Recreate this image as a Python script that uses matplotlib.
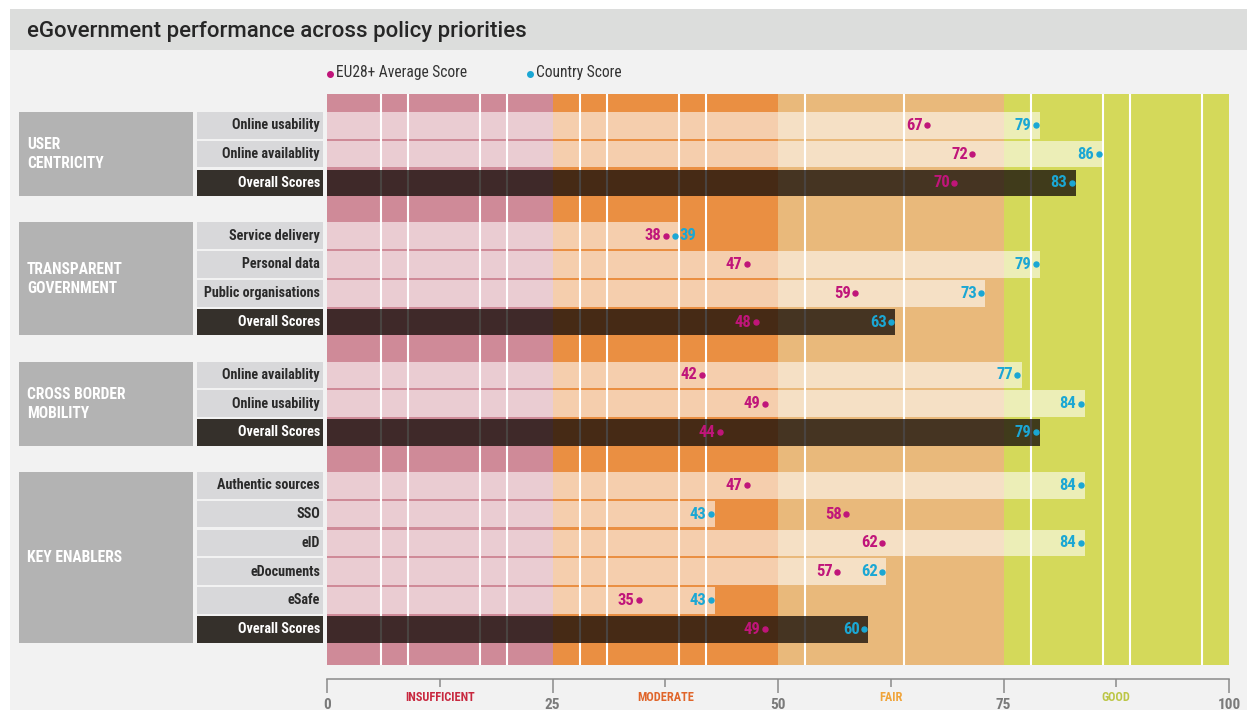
import matplotlib
matplotlib.use('Agg')
import matplotlib.pyplot as plt
from matplotlib import font_manager
from matplotlib.patches import Rectangle

# ---- data ----
groups = ['USER\nCENTRICITY', 'TRANSPARENT\nGOVERNMENT', 'CROSS BORDER\nMOBILITY', 'KEY ENABLERS']
group_items = [
    ['Online usability', 'Online availablity', 'Overall Scores'],
    ['Service delivery', 'Personal data', 'Public organisations', 'Overall Scores'],
    ['Online availablity', 'Online usability', 'Overall Scores'],
    ['Authentic sources', 'SSO', 'eID', 'eDocuments', 'eSafe', 'Overall Scores'],
]
eu_scores = [[67, 72, 70], [38, 47, 59, 48], [42, 49, 44], [47, 58, 62, 57, 35, 49]]
country_scores = [[79, 86, 83], [39, 79, 73, 63], [77, 84, 79], [84, 43, 84, 62, 43, 60]]
zones = ['INSUFFICIENT', 'MODERATE', 'FAIR', 'GOOD']
zone_edges = [0, 25, 50, 75, 100]
grid_marks = [6, 9, 17, 20, 28, 31, 39, 42, 53, 64, 78, 86, 89, 97]

# ---- styles ----
zone_colors = ['#cf8a98', '#ea8f42', '#e9b97b', '#d4d95a']
zone_text_colors = ['#c8283f', '#e0652a', '#f0a43a', '#bcc645']
EU_COL = '#c0157a'
CTRY_COL = '#1ba7d4'

# pick a condensed font if one is installed
names = {f.name for f in font_manager.fontManager.ttflist}
FONT = 'DejaVu Sans'
for cand in ['Roboto Condensed', 'Liberation Sans Narrow', 'Open Sans Condensed', 'Noto Sans Condensed']:
    if cand in names:
        FONT = cand
        break
WIDE = 'Roboto' if 'Roboto' in names else 'DejaVu Sans'
plt.rcParams['font.family'] = [FONT, 'DejaVu Sans']
plt.rcParams['font.stretch'] = 'condensed'

W, H = 1247, 710
fig = plt.figure(figsize=(W / 100, H / 100), dpi=100, facecolor='white')

# background axes in pixel units
bg = fig.add_axes([0, 0, 1, 1])
bg.set_xlim(0, W)
bg.set_ylim(H, 0)
bg.axis('off')
bg.add_patch(Rectangle((10, 50), W - 10, H - 50, color='#f2f2f2', lw=0))
bg.add_patch(Rectangle((10, 9), W - 10, 41, color='#dcdddc', lw=0))
bg.text(27, 31, 'eGovernment performance across policy priorities', fontsize=16,
        family=[WIDE, 'DejaVu Sans'], fontstretch='normal', fontweight='medium',
        color='#262626', va='center', ha='left')
bg.plot([330], [74], 'o', color=EU_COL, ms=4)
bg.text(336, 73, 'EU28+ Average Score', fontsize=11.2, color='#333333', va='center')
bg.plot([530], [74], 'o', color=CTRY_COL, ms=4)
bg.text(536, 73, 'Country Score', fontsize=11.2, color='#333333', va='center')

# row layout (pixels from top)
top, bottom = 94, 665
pitch, group_gap, band_h, first_top = 28.8, 24, 26.5, 112
row_tops = []
y = first_top
for items in group_items:
    tops = []
    for _ in items:
        tops.append(y)
        y += pitch
    row_tops.append(tops)
    y += group_gap

x0, x1 = 327, 1229
ax = fig.add_axes([x0 / W, 1 - bottom / H, (x1 - x0) / W, (bottom - top) / H])
ax.set_xlim(0, 100)
ax.set_ylim(bottom, top)
ax.patch.set_alpha(0)

for i in range(4):
    ax.axvspan(zone_edges[i], zone_edges[i + 1], color=zone_colors[i], lw=0, zorder=0)
ax.vlines(grid_marks, top, bottom, color='white', lw=1.5, zorder=1)

for g, items in enumerate(group_items):
    for k, name in enumerate(items):
        yc = row_tops[g][k] + band_h / 2
        eu = eu_scores[g][k]
        ct = country_scores[g][k]
        overall = name == 'Overall Scores'
        if overall:
            ax.barh(yc, ct, height=band_h, color='#140c08', alpha=0.77, lw=0, zorder=2)
        else:
            ax.barh(yc, ct, height=band_h, color='white', alpha=0.57, lw=0, zorder=2)
        ax.plot(eu - 0.45, yc, 'o', color=EU_COL, ms=3.6, zorder=4)
        ax.text(eu - 0.95, yc, str(eu), color=EU_COL, fontsize=12, fontweight='bold',
                ha='right', va='center', zorder=4)
        ax.plot(ct - 0.45, yc, 'o', color=CTRY_COL, ms=3.6, zorder=4)
        if abs(ct - eu) < 3:
            ax.text(ct + 0.05, yc, str(ct), color=CTRY_COL, fontsize=12, fontweight='bold',
                    ha='left', va='center', zorder=4)
        else:
            ax.text(ct - 0.95, yc, str(ct), color=CTRY_COL, fontsize=12, fontweight='bold',
                    ha='right', va='center', zorder=4)

# axis ruler
for s in ['top', 'right', 'left']:
    ax.spines[s].set_visible(False)
ax.spines['bottom'].set_position(('outward', 10))
ax.spines['bottom'].set_color('#8a8a8a')
ax.spines['bottom'].set_linewidth(1.1)
ax.set_yticks([])
ax.set_xticks(zone_edges)
ax.set_xticks([12.5, 37.5, 62.5, 87.5], minor=True)
ax.set_xticklabels([str(v) for v in zone_edges])
ax.set_xticklabels(zones, minor=True)
ax.tick_params(axis='x', which='major', length=10, width=1.1, color='#8a8a8a', pad=3.5,
               labelsize=11, labelcolor='#7a7a7a')
ax.tick_params(axis='x', which='minor', length=5.8, width=1.1, color='#8a8a8a', pad=3.2,
               labelsize=8.8)
for lab in ax.get_xticklabels():
    lab.set_fontweight('bold')
for lab, c in zip(ax.get_xticklabels(minor=True), zone_text_colors):
    lab.set_color(c)
    lab.set_fontweight('bold')

# left label panel
axl = fig.add_axes([0, 1 - bottom / H, x0 / W, (bottom - top) / H], sharey=ax)
axl.set_xlim(0, x0)
axl.axis('off')
for g, items in enumerate(group_items):
    gt = row_tops[g][0]
    gb = row_tops[g][-1] + band_h
    axl.add_patch(Rectangle((19, gt), 174, gb - gt, color='#b3b3b3', lw=0))
    axl.text(27, (gt + gb) / 2, groups[g], color='white', fontsize=11.2, fontweight='bold',
             ha='left', va='center', linespacing=1.35)
    for k, name in enumerate(items):
        rt = row_tops[g][k]
        overall = name == 'Overall Scores'
        axl.add_patch(Rectangle((197, rt), 126, band_h,
                                color='#35302b' if overall else '#d8d8da', lw=0))
        axl.text(320, rt + band_h / 2, name, color='white' if overall else '#2a2a2a',
                 fontsize=10.2, fontweight='bold', ha='right', va='center')

fig.savefig('out.png', dpi=100, facecolor=fig.get_facecolor())
